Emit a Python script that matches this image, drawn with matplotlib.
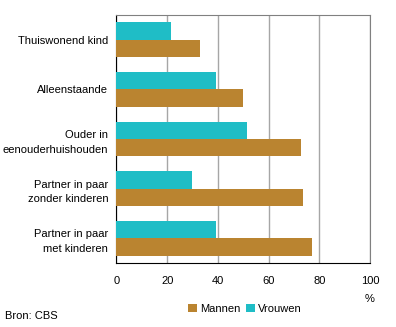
import matplotlib.pyplot as plt
import numpy as np

categories = ["Thuiswonend kind", "Alleenstaande", "Ouder in\neenouderhuishouden",
              "Partner in paar\nzonder kinderen", "Partner in paar\nmet kinderen"]
vrouwen = [21.5, 39.2, 51.5, 29.8, 39.2]
mannen = [33.0, 49.9, 72.8, 73.6, 77.0]
xticks = [0, 20, 40, 60, 80, 100]

teal = "#1fbdc6"
brown = "#ba8430"

plt.rcParams['font.family'] = ['Liberation Sans', 'DejaVu Sans']
plt.rcParams['font.size'] = 8

fig = plt.figure(figsize=(3.96, 3.27), dpi=100)
ax = fig.add_axes([116.5 / 396, 1 - 263 / 327, (370 - 116.5) / 396, (263 - 15) / 327])

y = np.arange(len(categories))
h = 0.35
ax.barh(y - h / 2, vrouwen, height=h, color=teal, label="Vrouwen", zorder=3)
ax.barh(y + h / 2, mannen, height=h, color=brown, label="Mannen", zorder=3)

ax.set_ylim(len(categories) - 0.5, -0.5)
ax.set_xlim(0, 100)
ax.set_xticks(xticks)
ax.set_yticks(y)
ax.set_yticklabels(categories)
for lbl in ax.get_yticklabels():
    lbl.set_multialignment('right')
    lbl.set_linespacing(1.6)
ax.tick_params(axis='y', length=0, pad=6)
ax.tick_params(axis='x', length=0, pad=9)
ax.grid(axis='x', color='#a6a6a6', linewidth=1, zorder=0)

for s in ['top', 'right']:
    ax.spines[s].set_color('#808080')
ax.spines['left'].set_color('black')
ax.spines['bottom'].set_color('black')

handles, labels = ax.get_legend_handles_labels()
fig.legend(handles[::-1], labels[::-1], loc='center', bbox_to_anchor=(245 / 396, 1 - 309 / 327),
           ncol=2, frameon=False, handlelength=0.8, handleheight=0.8, handletextpad=0.3,
           columnspacing=0.5, borderaxespad=0)
fig.text(370 / 396, 1 - 299 / 327, "%", ha='center', va='center')
fig.text(5 / 396, 1 - 316 / 327, "Bron: CBS", ha='left', va='center')

fig.savefig("out.png", dpi=100)
